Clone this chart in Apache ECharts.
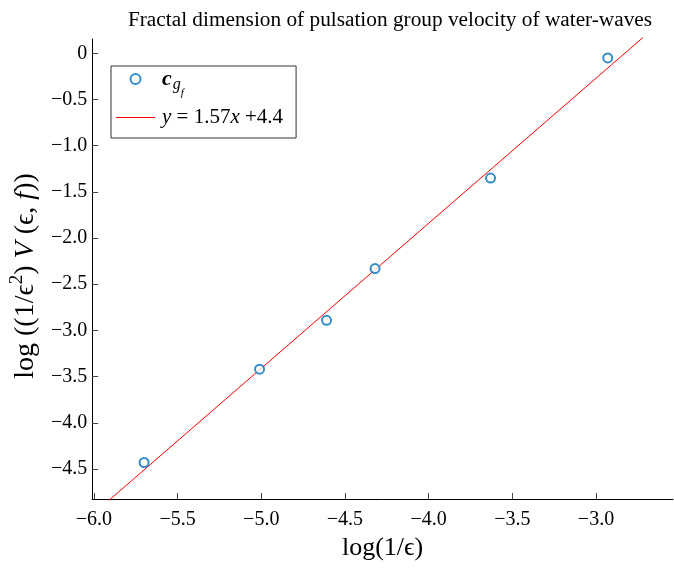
<!DOCTYPE html>
<html><head><meta charset="utf-8">
<script src="https://cdn.jsdelivr.net/npm/echarts@6/dist/echarts.min.js"></script>
<style>html,body{margin:0;padding:0;background:#fff}#c{width:674px;height:568px}</style>
</head><body><div id="c"></div>
<script>
const xValues = [-5.70, -5.01, -4.61, -4.32, -3.63, -2.93];
const yValues = [-4.43, -3.42, -2.89, -2.33, -1.35, -0.05];
const fitLineX = [-5.91, -2.72];
const fitLineY = [-4.84, 0.17];
const xTicks = [-6.0, -5.5, -5.0, -4.5, -4.0, -3.5, -3.0];
const yTicks = [-4.5, -4.0, -3.5, -3.0, -2.5, -2.0, -1.5, -1.0, -0.5, 0];

const FONT = 'Liberation Serif';
const fmt = v => (Math.abs(v) < 1e-9 ? '0' : v.toFixed(1).replace('-', '\u2212'));

const chart = echarts.init(document.getElementById('c'), null, {renderer: 'canvas'});
chart.setOption({
  backgroundColor: '#fff',
  animation: false,
  title: {
    text: 'Fractal dimension of pulsation group velocity of water-waves',
    left: 385, top: 5, textAlign: 'center',
    textStyle: {fontFamily: FONT, fontSize: 21.3, fontWeight: 'normal', color: '#000'}
  },
  grid: {left: 92, right: 1, top: 39, bottom: 69, containLabel: false},
  legend: {
    orient: 'vertical', left: 111, top: 66,
    padding: [2, 13, 10, 5],
    itemGap: 8,
    itemWidth: 39, itemHeight: 10,
    borderColor: '#333', borderWidth: 1, backgroundColor: '#fff',
    data: [
      {name: 'cgf', icon: 'emptyCircle'},
      {name: 'fit', icon: 'path://M0,0 L39,0 L39,1 L0,1 Z'}
    ],
    formatter: function (name) {
      if (name === 'cgf') return '{c|c}{s|g}{ss|f}';
      return '{i|y}{n| = 1.57}{i|x}{n| +4.4}';
    },
    textStyle: {
      fontFamily: FONT, fontSize: 21, color: '#000', padding: [0, 0, 0, 2],
      rich: {
        c: {fontFamily: FONT, fontSize: 22, fontStyle: 'italic', fontWeight: 'bold', color: '#000', lineHeight: 22, verticalAlign: 'top'},
        s: {fontFamily: FONT, fontSize: 16, fontStyle: 'italic', color: '#000', lineHeight: 22, padding: [9, 0, 0, 1], verticalAlign: 'top'},
        ss: {fontFamily: FONT, fontSize: 11, fontStyle: 'italic', color: '#000', lineHeight: 22, padding: [20, 0, 0, 0], verticalAlign: 'top'},
        i: {fontFamily: FONT, fontSize: 21, fontStyle: 'italic', color: '#000'},
        n: {fontFamily: FONT, fontSize: 21, color: '#000'}
      }
    }
  },
  xAxis: {
    type: 'value', min: -6.01, max: -2.54,
    name: 'log(1/\u03F5)', nameLocation: 'middle', nameGap: 35,
    nameTextStyle: {fontFamily: FONT, fontSize: 26, color: '#000'},
    axisLine: {show: true, onZero: false, lineStyle: {color: '#000', width: 1}},
    axisTick: {show: true, inside: true, length: 6, lineStyle: {color: '#444'}, customValues: xTicks},
    axisLabel: {fontFamily: FONT, fontSize: 20, color: '#000', margin: 11, customValues: xTicks, formatter: fmt},
    splitLine: {show: false}
  },
  yAxis: {
    type: 'value', min: -4.825, max: 0.155,
    name: '{n|log ((1/}{n|\u03F5}{sup|2}{n|) }{i|V}{n| (}{n|\u03F5}{n|, }{i|f}{n|))}',
    nameLocation: 'middle', nameGap: 48, nameRotate: 90,
    nameTextStyle: {
      fontFamily: FONT, fontSize: 28, color: '#000', padding: [0, 14, 0, 0],
      rich: {
        n: {fontFamily: FONT, fontSize: 28, color: '#000', lineHeight: 32, verticalAlign: 'bottom'},
        i: {fontFamily: FONT, fontSize: 28, fontStyle: 'italic', color: '#000', lineHeight: 32, verticalAlign: 'bottom'},
        sup: {fontFamily: FONT, fontSize: 19, color: '#000', lineHeight: 32, padding: [0, 0, 13, 0], verticalAlign: 'bottom'}
      }
    },
    axisLine: {show: true, onZero: false, lineStyle: {color: '#000', width: 1}},
    axisTick: {show: true, inside: true, length: 6, lineStyle: {color: '#444'}, customValues: yTicks},
    axisLabel: {fontFamily: FONT, fontSize: 20, color: '#000', margin: 5, customValues: yTicks, formatter: fmt},
    splitLine: {show: false}
  },
  series: [
    {
      name: 'cgf', type: 'scatter',
      symbol: 'emptyCircle', symbolSize: 9,
      itemStyle: {color: '#0072BD', borderColor: '#0072BD', borderWidth: 1.5},
      data: xValues.map((x, i) => [x, yValues[i]]),
      z: 3
    },
    {
      name: 'fit', type: 'line',
      showSymbol: false, symbol: 'none',
      lineStyle: {color: '#FF0000', width: 1},
      itemStyle: {color: '#FF0000'},
      data: fitLineX.map((x, i) => [x, fitLineY[i]]),
      clip: false,
      z: 2
    }
  ]
});
</script>
</body></html>
